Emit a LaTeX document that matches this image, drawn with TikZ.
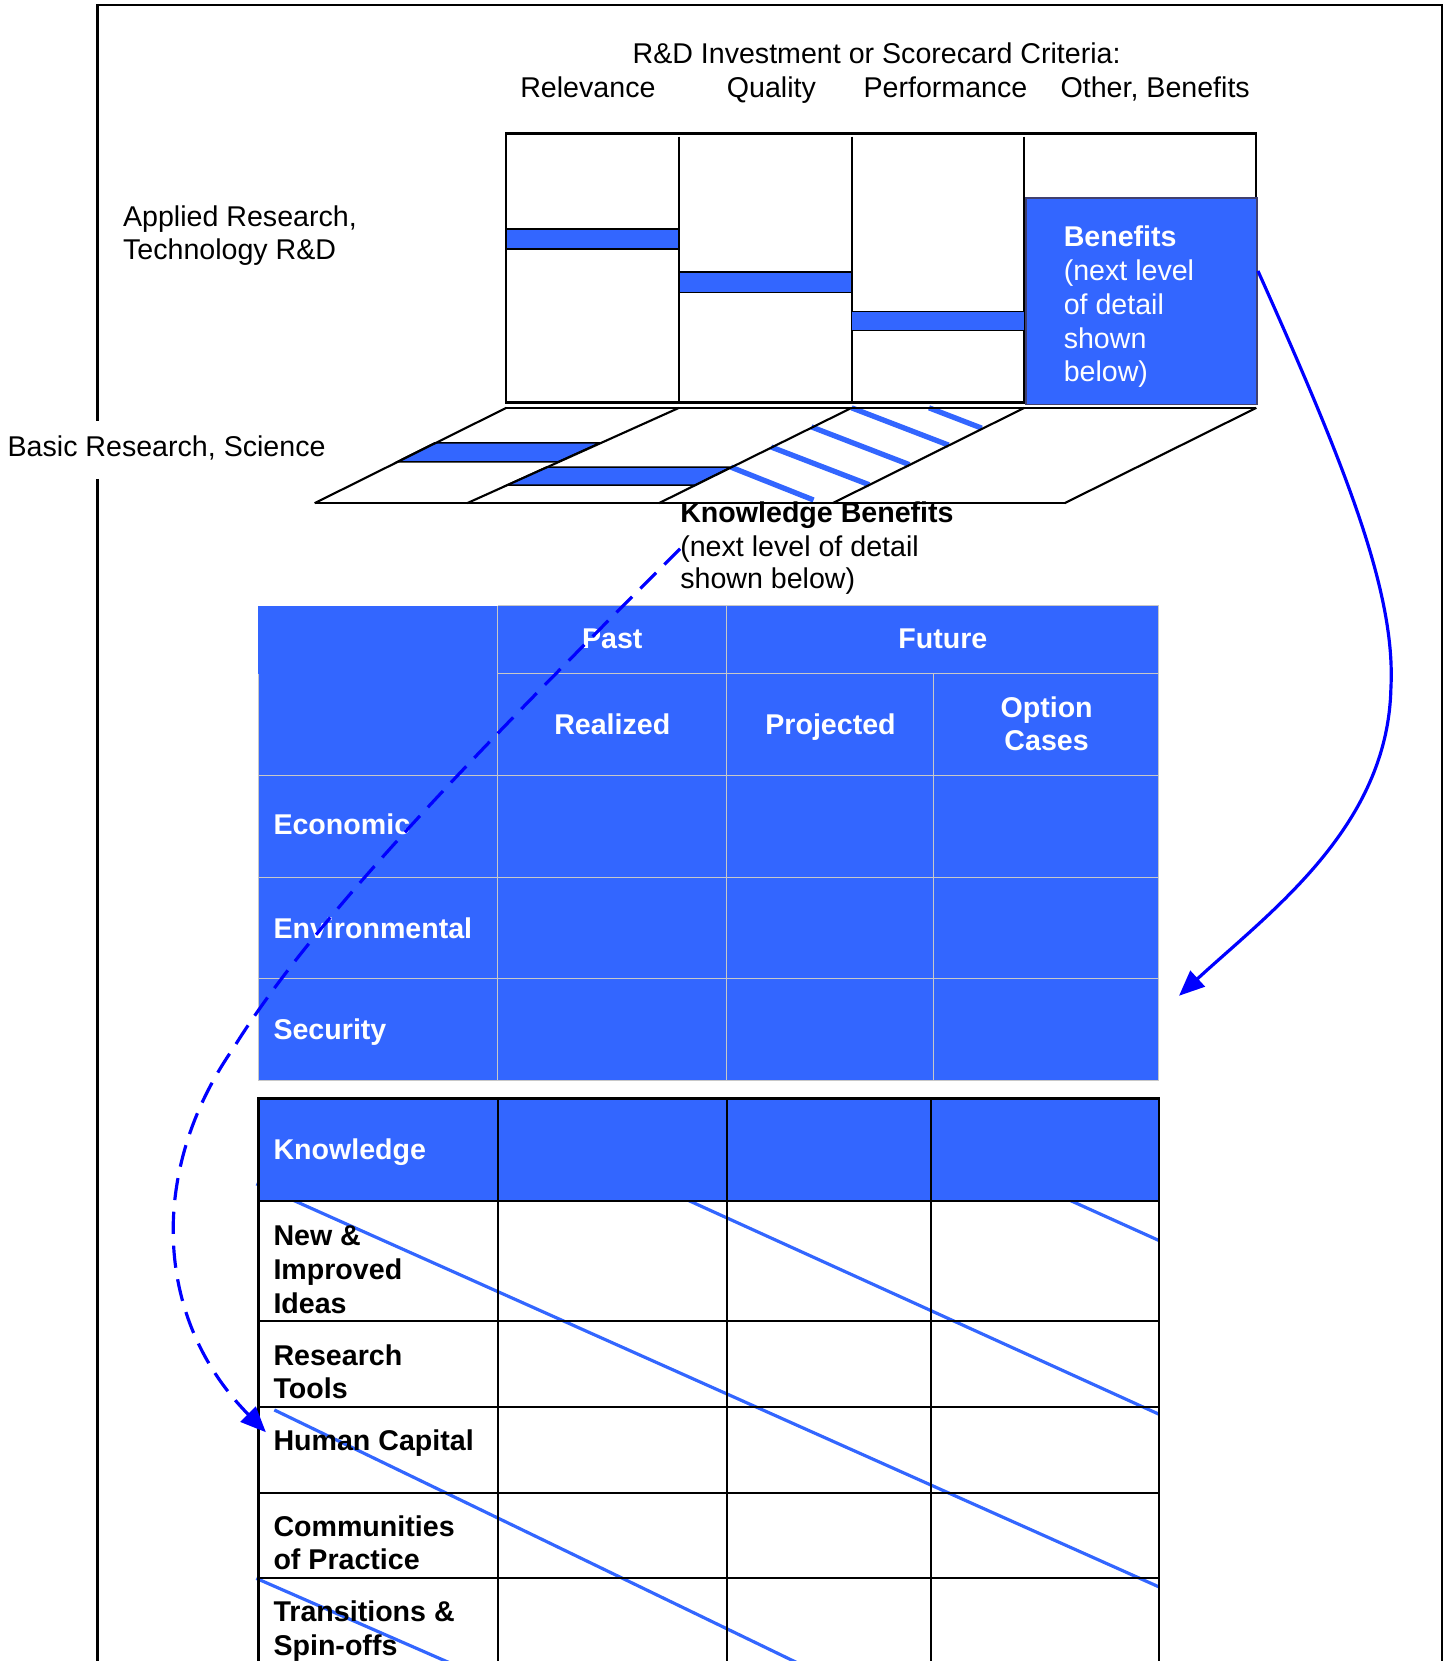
\documentclass[tikz,border=0pt]{standalone}
\usepackage{fontspec}
\setmainfont{Liberation Sans}
\usetikzlibrary{arrows.meta}
\definecolor{bfill}{HTML}{3366FF}
\definecolor{arrblue}{HTML}{0000FF}
\definecolor{gridg}{HTML}{C8C8C8}
\definecolor{bborder}{HTML}{404070}
\begin{document}
\begin{tikzpicture}[x=1pt,y=-1pt,
  txt/.style={font=\fontsize{27}{32}\selectfont, inner sep=0pt, anchor=base west},
  btxt/.style={txt, font=\fontsize{27}{32}\selectfont\bfseries},
  wtxt/.style={btxt, text=white},
  ctxt/.style={wtxt, anchor=base},
  blk/.style={line width=2pt, black},
  gridl/.style={line width=1pt, gridg},
  bar/.style={fill=bfill, draw=black, line width=1.5pt},
  hatch/.style={bfill, line width=5pt},
  diag/.style={bfill, line width=3pt},
  conn/.style={arrblue, line width=3pt, -{Triangle[length=24pt,width=20pt]}},
]
\useasboundingbox (0,0) rectangle (1367,1568);
\clip (0,0) rectangle (1367,1568);

% outer frame
\draw[blk] (92,397) -- (92,5) -- (1361,5) -- (1361,1580);
\draw[blk] (92,452) -- (92,1580);

% top box
\draw[blk] (478,126) rectangle (1186,380);
\foreach \x in {641,804,967} \draw[blk] (\x,129) -- (\x,380);
\draw[bar] (478,216) rectangle (641,235);
\draw[bar] (641,257) rectangle (804,276);
\draw[bar] (804,294) rectangle (967,312);
\node[draw=bborder, fill=bfill, line width=1.5pt, minimum width=218pt, minimum height=195pt, inner sep=0pt, anchor=north west] (benbox) at (968,186) {};

% floor
\draw[bar] (410.4,418) -- (566.3,418) -- (526.7,436) -- (374.6,436) -- cycle;
\draw[bar] (515.7,441) -- (690,441) -- (656,458) -- (478.4,458) -- cycle;
\draw[hatch] (690,441) -- (768,472);
\draw[hatch] (728,422) -- (820.5,457.6);
\draw[hatch] (766,403) -- (858.4,438.6);
\draw[hatch] (804,385) -- (895.5,420.2);
\draw[hatch] (877,385) -- (926.8,404.2);
\draw[blk] (478,385) -- (1186,385);
\draw[blk] (297,475) -- (1005,475);
\draw[blk] (297,475) -- (478,385);
\draw[blk] (441,475) -- (641,385);
\draw[blk] (622,475) -- (804,385);
\draw[blk] (786,475) -- (967,385);
\draw[blk] (1005,475) -- (1186,385);

% blue benefits table
\fill[bfill] (244,572) rectangle (1094,1020);
\draw[gridl] (470,572) -- (1094,572);
\draw[gridl] (470,636) -- (1094,636);
\foreach \y in {732,828,924,1020} \draw[gridl] (244,\y) -- (1094,\y);
\foreach \x in {470,686,1094} \draw[gridl] (\x,572) -- (\x,1020);
\draw[gridl] (881,636) -- (881,1020);
\draw[gridl] (244,636) -- (244,1020);

% knowledge table
\draw[diag] (242,1117.5) -- (1094,1498);
\draw[diag] (601,1111) -- (1094,1335);
\draw[diag] (961,1111) -- (1094,1171);
\draw[diag] (259,1331) -- (776,1581);
\draw[diag] (242,1490) -- (448,1580);
\fill[bfill] (244,1037) rectangle (1094,1134);
\draw[blk] (244,1580) -- (244,1037) -- (1094,1037) -- (1094,1580);
\foreach \y in {1134,1247,1328,1409,1490} \draw[blk] (244,\y) -- (1094,\y);
\foreach \x in {470,686,879} \draw[blk] (\x,1037) -- (\x,1580);

% texts
\node[txt] (title) at (597,60) {R\&D Investment or Scorecard Criteria:};
\node[txt] (crel) at (491,92) {Relevance};
\node[txt] (cqual) at (686,92) {Quality};
\node[txt] (cperf) at (815,92) {Performance};
\node[txt] (cother) at (1001,92) {Other, Benefits};
\node[txt] (appl1) at (116,214) {Applied Research,};
\node[txt] (appl2) at (116,245) {Technology R\&D};
\node[txt] (basic) at (7,431) {Basic Research, Science};

\node[btxt, text=white] (ben1) at (1004,233) {Benefits};
\node[txt, text=white] (ben2) at (1004,265) {(next level};
\node[txt, text=white] (ben3) at (1004,297) {of detail};
\node[txt, text=white] (ben4) at (1004,329) {shown};
\node[txt, text=white] (ben5) at (1004,360) {below)};

\node[btxt] (kb1) at (642,493) {Knowledge Benefits};
\node[txt] (kb2) at (642,525) {(next level of detail};
\node[txt] (kb3) at (642,556) {shown below)};

\node[ctxt] (past) at (578,612) {Past};
\node[ctxt] (future) at (890,612) {Future};
\node[ctxt] (realized) at (578,693) {Realized};
\node[ctxt] (projected) at (784,693) {Projected};
\node[ctxt] (option) at (988,677) {Option};
\node[ctxt] (cases) at (988,708) {Cases};
\node[wtxt] (econ) at (258,788) {Economic};
\node[wtxt] (envir) at (258,886) {Environmental};
\node[wtxt] (secur) at (258,981) {Security};

\node[wtxt] (know) at (258,1095) {Knowledge};
\node[btxt] (new1) at (258,1176) {New \&};
\node[btxt] (new2) at (258,1208) {Improved};
\node[btxt] (new3) at (258,1240) {Ideas};
\node[btxt] (rt1) at (258,1289) {Research};
\node[btxt] (rt2) at (258,1320) {Tools};
\node[btxt] (hc) at (258,1369) {Human Capital};
\node[btxt] (cp1) at (258,1450) {Communities};
\node[btxt] (cp2) at (258,1482) {of Practice};
\node[btxt] (ts1) at (258,1531) {Transitions \&};
\node[btxt] (ts2) at (258,1563) {Spin-offs};

% connectors
\coordinate (benend) at (1113,940);
\coordinate (hcend) at (251,1352);
\draw[conn] ([yshift=28.5pt]benbox.east) .. controls (1270,440) and (1318,560) .. (1313,650)
  .. controls (1310,780) and (1200,860) .. (benend);
\draw[conn, dash pattern=on 21pt off 11pt] (kb2.west) .. controls (480,680) and (300,860) .. (220,990)
  .. controls (140,1105) and (145,1245) .. (hcend);
\end{tikzpicture}
\end{document}
